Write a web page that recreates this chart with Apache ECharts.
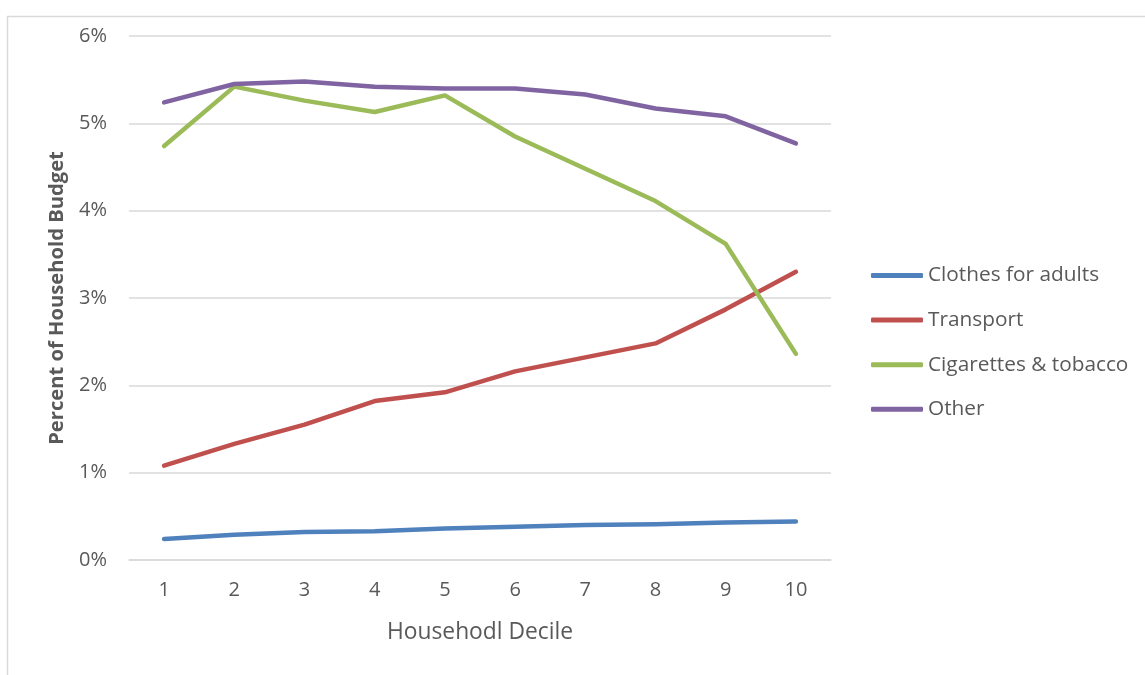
<!DOCTYPE html>
<html>
<head>
<meta charset="utf-8">
<script src="https://cdn.jsdelivr.net/npm/echarts@6/dist/echarts.min.js"></script>
<style>
html,body{margin:0;padding:0;background:#fff;}
#chart{width:1145px;height:675px;}
</style>
</head>
<body>
<div id="chart"></div>
<script>
const categories = ['1','2','3','4','5','6','7','8','9','10'];
const seriesNames = ['Clothes for adults','Transport','Cigarettes & tobacco','Other'];
const clothes = [0.24, 0.29, 0.32, 0.33, 0.36, 0.38, 0.40, 0.41, 0.43, 0.44];
const transport = [1.08, 1.33, 1.55, 1.82, 1.92, 2.16, 2.32, 2.48, 2.87, 3.30];
const tobacco = [4.74, 5.42, 5.26, 5.13, 5.32, 4.85, 4.48, 4.11, 3.62, 2.36];
const other = [5.24, 5.45, 5.48, 5.42, 5.40, 5.40, 5.33, 5.17, 5.08, 4.77];
const colors = ['#4F81BD','#C0504D','#9BBB59','#8064A2'];
const font = '"Open Sans", Lato, sans-serif';

const chart = echarts.init(document.getElementById('chart'), null, {renderer:'canvas'});
const mk = (name, data, i) => ({
  name, type:'line', data, symbol:'none', smooth:false,
  lineStyle:{color:colors[i], width:4.5, cap:'round', join:'round'},
  itemStyle:{color:colors[i]}
});
chart.setOption({
  animation:false,
  backgroundColor:'#fff',
  graphic:[{type:'rect', shape:{x:7.5,y:16.5,width:1200,height:700}, style:{fill:'none', stroke:'#D9D9D9', lineWidth:1.5}, silent:true, z:-1}],
  grid:{left:129, right:314, top:36, bottom:115},
  legend:{
    orient:'vertical', left:866, top:260, itemGap:23.6,
    icon:'roundRect', itemWidth:52, itemHeight:5,
    textStyle:{fontFamily:font, fontSize:20.8, color:'#595959', lineHeight:20, padding:[0,0,0,0]},
    data:seriesNames
  },
  xAxis:{
    type:'category', data:categories, boundaryGap:true,
    name:'Househodl Decile', nameLocation:'middle', nameGap:61,
    nameTextStyle:{fontFamily:font, fontSize:22.8, color:'#595959'},
    axisLine:{show:true, lineStyle:{color:'#D9D9D9', width:1.5}},
    axisTick:{show:false},
    axisLabel:{fontFamily:font, fontSize:20, color:'#595959', margin:20}
  },
  yAxis:{
    type:'value', min:0, max:6, interval:1,
    name:'Percent of Household Budget', nameLocation:'middle', nameGap:62,
    nameTextStyle:{fontFamily:font, fontSize:20.2, fontWeight:'bold', color:'#595959'},
    axisLine:{show:false}, axisTick:{show:false},
    splitLine:{lineStyle:{color:'#D9D9D9', width:1.5}},
    axisLabel:{fontFamily:font, fontSize:20, color:'#595959', margin:22, formatter:'{value}%'}
  },
  series:[mk(seriesNames[0], clothes, 0), mk(seriesNames[1], transport, 1), mk(seriesNames[2], tobacco, 2), mk(seriesNames[3], other, 3)]
});
</script>
</body>
</html>
